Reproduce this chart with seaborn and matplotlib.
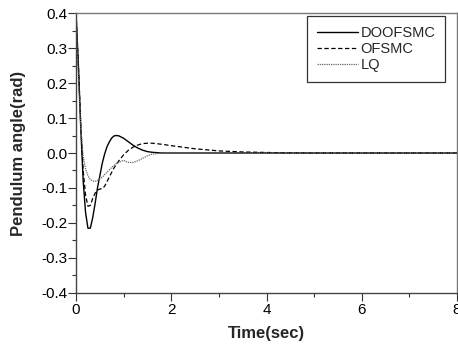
import numpy as np
import pandas as pd
import matplotlib
matplotlib.use("Agg")
import matplotlib.pyplot as plt
import seaborn as sns
from matplotlib.ticker import MultipleLocator

# values
time_sec = [0, 0.05, 0.1, 0.15, 0.2, 0.25, 0.3, 0.35, 0.4, 0.45, 0.5, 0.55, 0.6,
            0.65, 0.7, 0.75, 0.8, 0.85, 0.9, 1.0, 1.1, 1.2, 1.3, 1.4, 1.5, 1.6,
            1.8, 2.0, 2.5, 3.0, 3.5, 4.0, 4.5, 5.0, 6.0, 7.0, 8.0]
doofsmc = [0.40, 0.25, 0.07, -0.08, -0.17, -0.215, -0.215, -0.185, -0.145, -0.10,
           -0.065, -0.03, -0.003, 0.018, 0.032, 0.043, 0.049, 0.050, 0.049, 0.042,
           0.032, 0.022, 0.014, 0.008, 0.004, 0.002, 0.0, 0.0, 0.0, 0.0, 0.0, 0.0,
           0.0, 0.0, 0.0, 0.0, 0.0]
ofsmc = [0.40, 0.25, 0.08, -0.05, -0.12, -0.152, -0.15, -0.13, -0.115, -0.106,
         -0.103, -0.102, -0.095, -0.082, -0.068, -0.055, -0.042, -0.032, -0.022,
         -0.005, 0.008, 0.017, 0.023, 0.027, 0.028, 0.028, 0.025, 0.021, 0.012,
         0.006, 0.003, 0.0015, 0.0005, 0.0, 0.0, 0.0, 0.0]
lq = [0.40, 0.22, 0.07, -0.01, -0.045, -0.065, -0.076, -0.080, -0.081, -0.079,
      -0.074, -0.069, -0.062, -0.055, -0.048, -0.041, -0.035, -0.030, -0.026,
      -0.021, -0.027, -0.027, -0.022, -0.015, -0.008, -0.003, -0.0005, 0.0, 0.0,
      0.0, 0.0, 0.0, 0.0, 0.0, 0.0, 0.0, 0.0]

sns.set_style("ticks")
plt.rcParams['font.family'] = ['Liberation Sans', 'DejaVu Sans']

fig = plt.figure(figsize=(4.58, 3.45), dpi=100)
ax = fig.add_axes([0.166, 0.151, 0.832, 0.811])

sns.lineplot(x=time_sec, y=doofsmc, ax=ax, color='black', linewidth=1.0,
             label='DOOFSMC')
sns.lineplot(x=time_sec, y=ofsmc, ax=ax, color='black', linewidth=0.9,
             linestyle=(0, (3.5, 2)), label='OFSMC')
sns.lineplot(x=time_sec, y=lq, ax=ax, color='#666666', linewidth=0.9,
             linestyle=(0, (1, 0.8)), label='LQ')

ax.set_xlim(0, 8)
ax.set_ylim(-0.4, 0.4)
ax.xaxis.set_major_locator(MultipleLocator(2))
ax.xaxis.set_minor_locator(MultipleLocator(1))
ax.yaxis.set_major_locator(MultipleLocator(0.1))
ax.yaxis.set_minor_locator(MultipleLocator(0.05))
ax.set_yticklabels([f"{v:.1f}" for v in ax.get_yticks()])
ax.tick_params(axis='both', which='major', direction='out', length=5.5,
               width=0.8, labelsize=11, colors='#333333', labelcolor='black')
ax.tick_params(axis='both', which='minor', direction='out', length=3,
               width=0.8, colors='#333333')
ax.tick_params(axis='x', pad=2)
ax.tick_params(axis='y', pad=1)

for side in ['left', 'bottom']:
    ax.spines[side].set_color('#444444')
    ax.spines[side].set_linewidth(1.0)
for side in ['top', 'right']:
    ax.spines[side].set_color('#777777')
    ax.spines[side].set_linewidth(1.0)

ax.set_xlabel('Time(sec)', fontsize=12, fontweight='bold', labelpad=6)
ax.set_ylabel('Pendulum angle(rad)', fontsize=12, fontweight='bold', labelpad=11)

leg = ax.legend(loc='upper right', bbox_to_anchor=(0.9685, 0.989), fontsize=10.5,
                frameon=True, fancybox=False, handlelength=2.8,
                handletextpad=0.2, labelspacing=0.15, borderpad=0.65,
                borderaxespad=0)
leg.get_frame().set_edgecolor('black')
leg.get_frame().set_linewidth(0.9)

fig.savefig('out.png', dpi=100)
